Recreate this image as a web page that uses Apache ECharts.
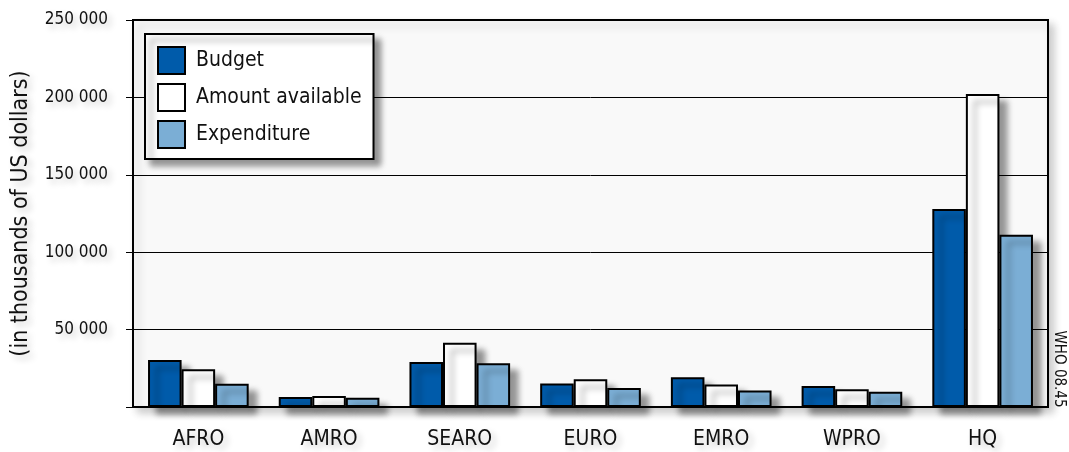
<!DOCTYPE html>
<html>
<head>
<meta charset="utf-8">
<style>
html,body{margin:0;padding:0;background:#fff;}
#chart{width:1069px;height:452px;}
</style>
<script src="https://cdn.jsdelivr.net/npm/echarts@6/dist/echarts.min.js"></script>
</head>
<body>
<div id="chart"></div>
<script>
const categories = ['AFRO', 'AMRO', 'SEARO', 'EURO', 'EMRO', 'WPRO', 'HQ'];
const budget = [30300, 6500, 29100, 15200, 19200, 13500, 127900];
const amountAvailable = [24400, 7100, 41500, 17900, 14600, 11500, 202200];
const expenditure = [15000, 6000, 28200, 12200, 10600, 9900, 111300];
const yTicks = [0, 50000, 100000, 150000, 200000, 250000];
const seriesNames = ['Budget', 'Amount available', 'Expenditure'];
const seriesColors = ['#005BAA', '#FFFFFF', '#7BAED5'];

const FONT = "'DejaVu Sans Condensed', 'Liberation Sans Narrow', 'DejaVu Sans', sans-serif";
const txtShadow = {textShadowColor: 'rgba(0,0,0,0.22)', textShadowBlur: 6, textShadowOffsetX: 4, textShadowOffsetY: 4};

function fmt(v) {
  if (v === 0) return '';
  return String(v).replace(/\B(?=(\d{3})+(?!\d))/g, ' ');
}

const chart = echarts.init(document.getElementById('chart'), null, {renderer: 'canvas'});

const barStyle = (c) => ({
  color: c,
  borderColor: '#000',
  borderWidth: 2,
  shadowColor: 'rgba(0,0,0,0.4)',
  shadowBlur: 6,
  shadowOffsetX: 8,
  shadowOffsetY: 7
});

const dataSets = [budget, amountAvailable, expenditure];

chart.setOption({
  animation: false,
  backgroundColor: '#fff',
  textStyle: {fontFamily: FONT},
  grid: {
    left: 133, right: 21, top: 20, bottom: 45,
    show: true,
    backgroundColor: '#f9f9f9',
    borderColor: '#000',
    borderWidth: 2,
    shadowColor: 'rgba(0,0,0,0.2)',
    shadowBlur: 8,
    shadowOffsetX: 5,
    shadowOffsetY: 5
  },
  legend: {
    orient: 'vertical',
    left: 145,
    top: 34,
    padding: [12, 12, 10, 12],
    itemWidth: 27,
    itemHeight: 27,
    itemGap: 8,
    backgroundColor: '#fff',
    borderColor: '#000',
    borderWidth: 2,
    shadowColor: 'rgba(0,0,0,0.4)',
    shadowBlur: 6,
    shadowOffsetX: 6,
    shadowOffsetY: 6,
    icon: 'rect',
    itemStyle: {borderColor: '#000', borderWidth: 2, shadowBlur: 0, shadowOffsetX: 0, shadowOffsetY: 0, shadowColor: 'transparent'},
    textStyle: {fontSize: 21, color: '#111', fontFamily: FONT, padding: [0, 0, 0, 6]},
    data: seriesNames
  },
  xAxis: {
    type: 'category',
    data: categories,
    axisLine: {show: true, lineStyle: {color: '#000', width: 2}},
    axisTick: {show: false},
    axisLabel: Object.assign({fontSize: 21, color: '#111', margin: 22, fontFamily: FONT}, txtShadow),
    splitLine: {show: false}
  },
  yAxis: {
    type: 'value',
    min: yTicks[0],
    max: yTicks[yTicks.length - 1],
    interval: yTicks[1] - yTicks[0],
    name: '(in thousands of US dollars)',
    nameLocation: 'middle',
    nameRotate: 90,
    nameGap: 100,
    nameTextStyle: Object.assign({fontSize: 23, color: '#111', fontFamily: FONT}, txtShadow),
    axisLine: {show: true, lineStyle: {color: '#000', width: 2}},
    axisTick: {show: true, inside: false, length: 7, lineStyle: {color: '#000', width: 1}},
    axisLabel: Object.assign({fontSize: 17, color: '#111', margin: 25, formatter: fmt, fontFamily: FONT}, txtShadow),
    splitLine: {show: true, lineStyle: {color: '#000', width: 1}}
  },
  series: seriesNames.map((n, i) => ({
    name: n,
    type: 'bar',
    data: dataSets[i],
    barGap: '0%',
    barCategoryGap: '23%',
    itemStyle: barStyle(seriesColors[i])
  })),
  graphic: [{
    type: 'text',
    x: 1059,
    y: 369,
    rotation: -Math.PI / 2,
    style: {
      text: 'WHO 08.45',
      font: "15px " + FONT,
      fill: '#111',
      align: 'center',
      verticalAlign: 'middle'
    }
  }]
});
</script>
</body>
</html>
